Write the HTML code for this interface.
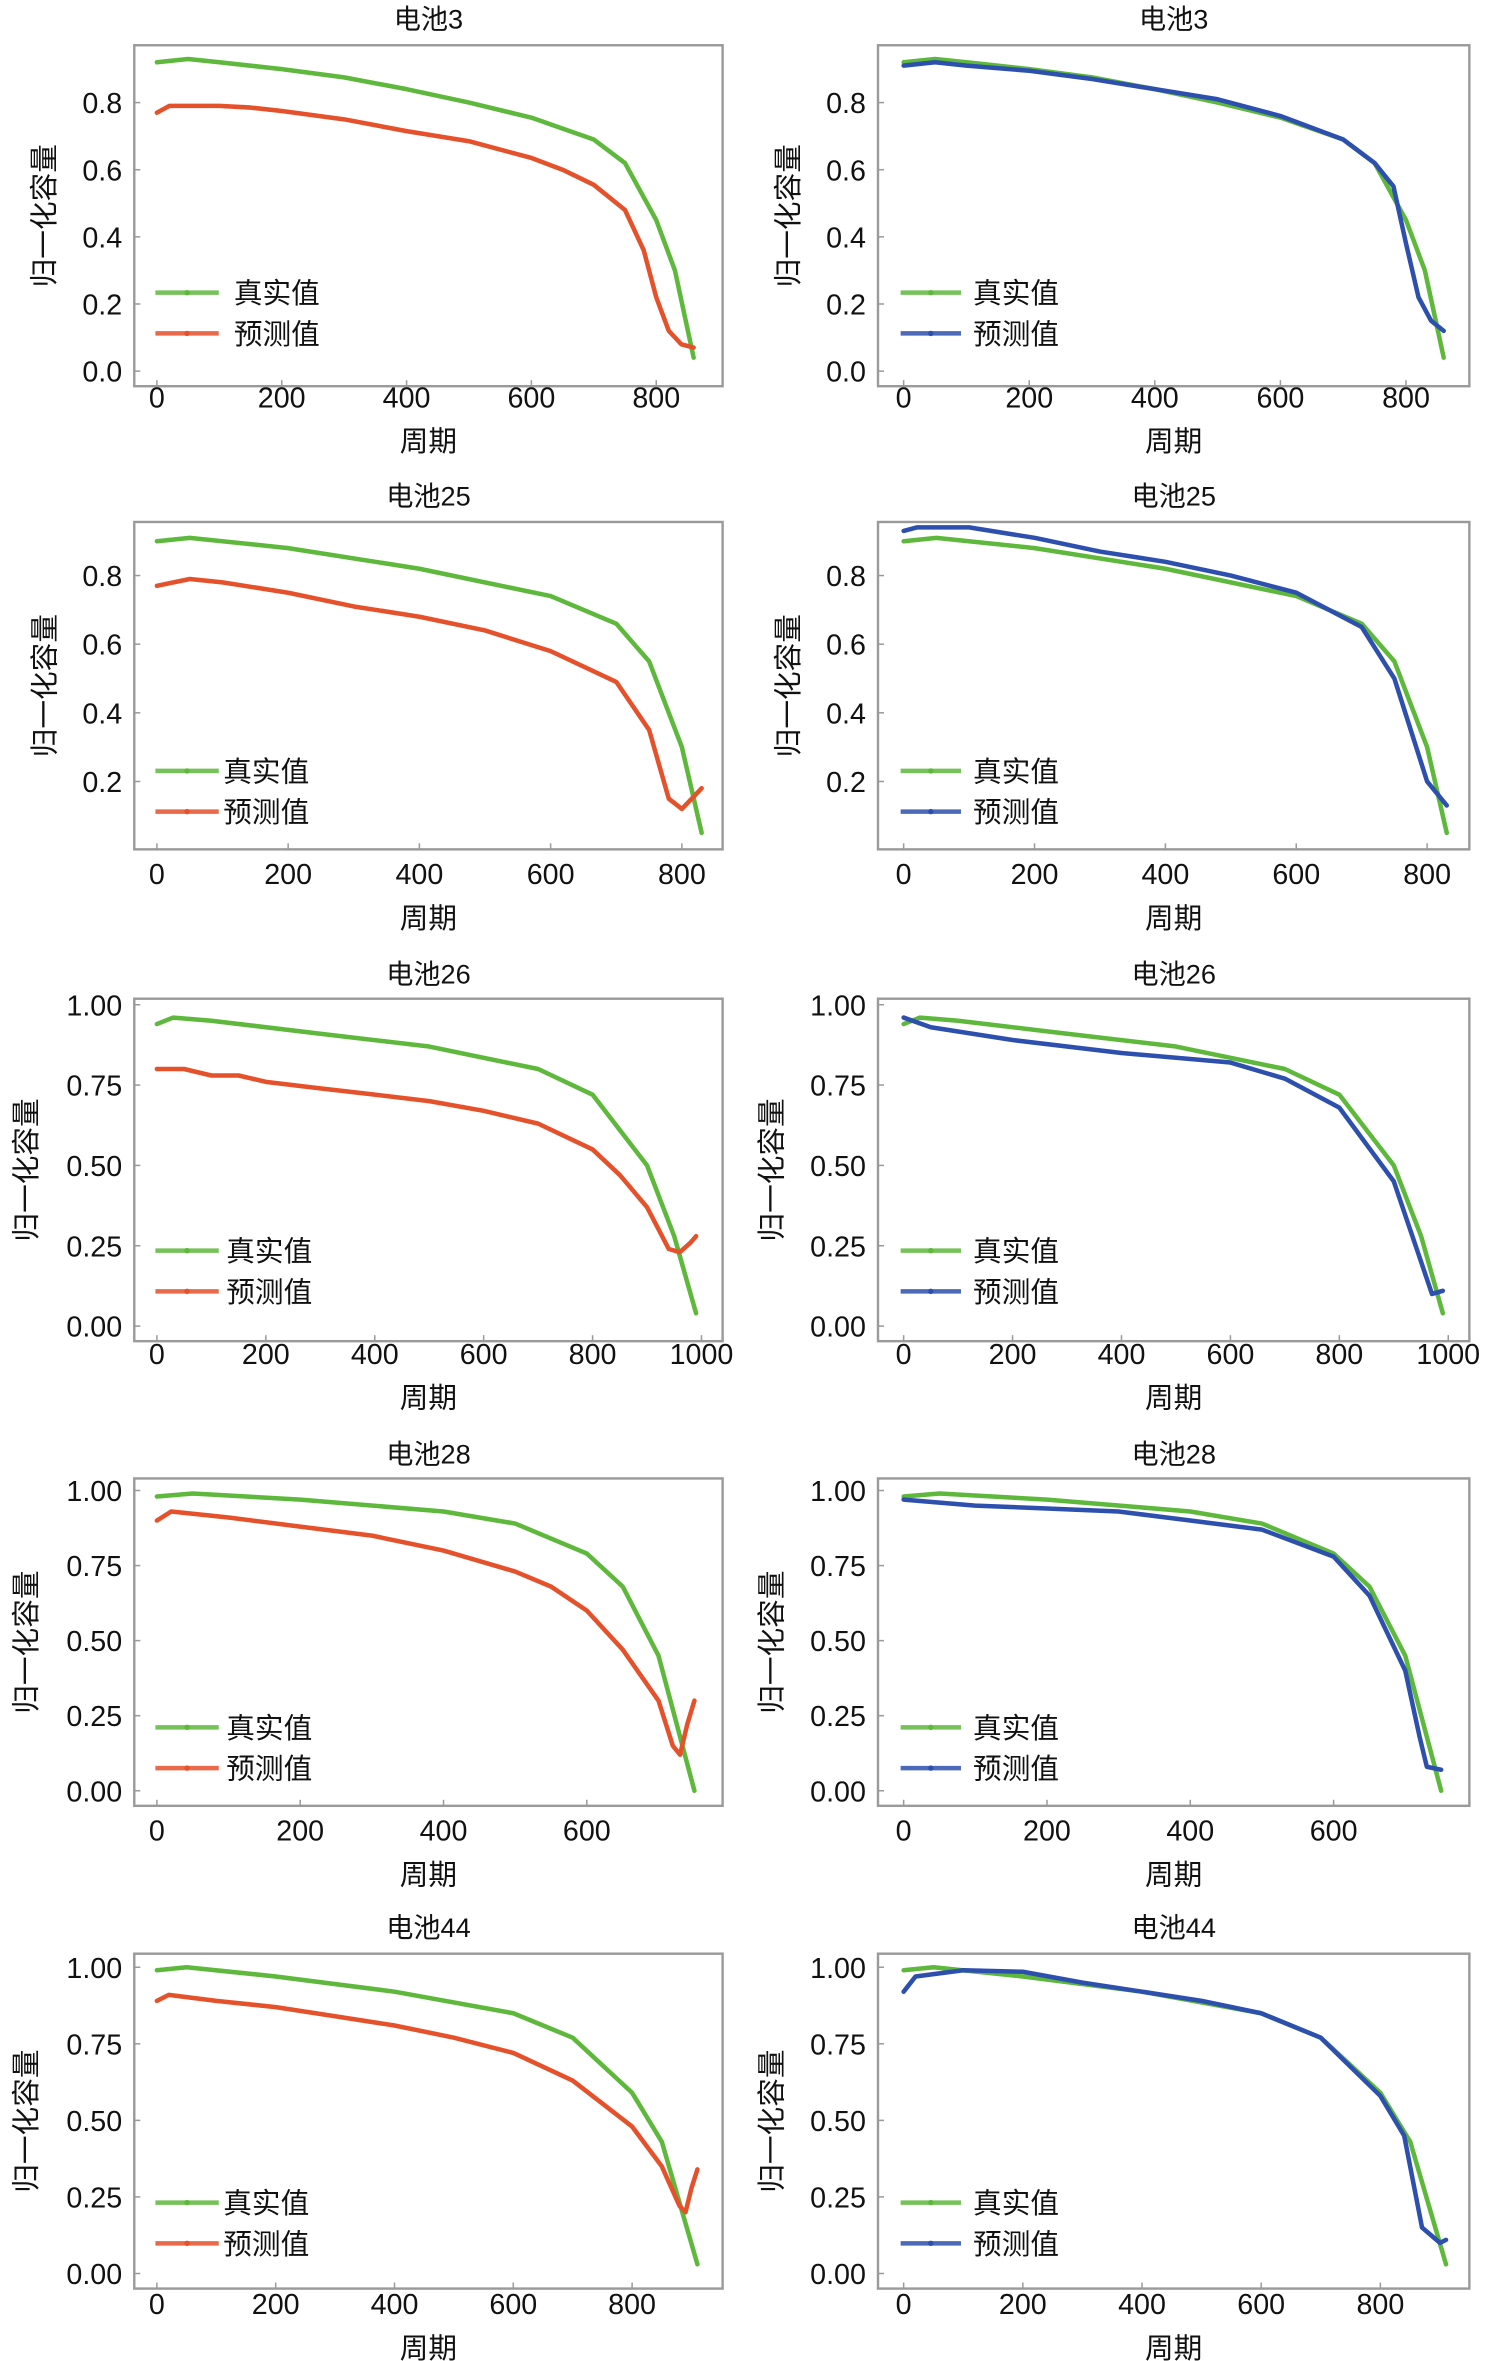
<!DOCTYPE html>
<html><head><meta charset="utf-8"><style>
html,body{margin:0;padding:0;background:#fff;}
svg{display:block;}
text{font-family:"Liberation Sans","Noto Sans CJK SC",sans-serif;fill:#111;}
</style></head><body>
<svg id="fig" xmlns="http://www.w3.org/2000/svg" width="1492" height="2361" viewBox="0 0 989 1565" preserveAspectRatio="none"></svg>
<script>
// ---- data (cycle, normalized capacity) ----
const b3Cycles = [0,50,100,200,300,400,500,600,700,750,800,830,860];
const b3True = [0.92,0.93,0.92,0.90,0.875,0.84,0.80,0.755,0.69,0.62,0.45,0.30,0.04];
const b3PredRedCycles = [0,20,100,150,200,300,400,500,600,650,700,750,780,800,820,840,860];
const b3PredRed = [0.77,0.79,0.79,0.785,0.775,0.75,0.715,0.685,0.635,0.60,0.555,0.48,0.36,0.22,0.12,0.08,0.07];
const b3PredBlueCycles = [0,50,100,200,300,400,500,600,700,750,780,800,820,840,860];
const b3PredBlue = [0.91,0.92,0.91,0.895,0.87,0.84,0.81,0.76,0.69,0.62,0.55,0.38,0.22,0.15,0.12];

const b25Cycles = [0,50,200,400,600,700,750,800,830];
const b25True = [0.90,0.91,0.88,0.82,0.74,0.66,0.55,0.30,0.05];
const b25PredRedCycles = [0,50,100,200,300,400,500,600,700,750,780,800,815,830];
const b25PredRed = [0.77,0.79,0.78,0.75,0.71,0.68,0.64,0.58,0.49,0.35,0.15,0.12,0.15,0.18];
const b25PredBlueCycles = [0,20,100,200,300,400,500,600,700,750,800,830];
const b25PredBlue = [0.93,0.94,0.94,0.91,0.87,0.84,0.80,0.75,0.65,0.50,0.20,0.13];

const b26Cycles = [0,30,100,300,500,700,800,900,950,990];
const b26True = [0.94,0.96,0.95,0.91,0.87,0.80,0.72,0.50,0.28,0.04];
const b26PredRedCycles = [0,50,100,150,200,300,400,500,600,700,800,850,900,940,960,980,990];
const b26PredRed = [0.80,0.80,0.78,0.78,0.76,0.74,0.72,0.70,0.67,0.63,0.55,0.47,0.37,0.24,0.23,0.26,0.28];
const b26PredBlueCycles = [0,50,200,400,600,700,800,900,950,970,990];
const b26PredBlue = [0.96,0.93,0.89,0.85,0.82,0.77,0.68,0.45,0.20,0.10,0.11];

const b28Cycles = [0,50,200,400,500,600,650,700,750];
const b28True = [0.98,0.99,0.97,0.93,0.89,0.79,0.68,0.45,0.0];
const b28PredRedCycles = [0,20,100,200,300,400,500,550,600,650,700,720,730,740,750];
const b28PredRed = [0.90,0.93,0.91,0.88,0.85,0.80,0.73,0.68,0.60,0.47,0.30,0.15,0.12,0.22,0.30];
const b28PredBlueCycles = [0,100,200,300,400,500,600,650,700,720,730,750];
const b28PredBlue = [0.97,0.95,0.94,0.93,0.90,0.87,0.78,0.65,0.40,0.18,0.08,0.07];

const b44Cycles = [0,50,200,400,600,700,800,850,910];
const b44True = [0.99,1.0,0.97,0.92,0.85,0.77,0.59,0.43,0.03];
const b44PredRedCycles = [0,20,100,200,300,400,500,600,700,800,850,880,890,900,910];
const b44PredRed = [0.89,0.91,0.89,0.87,0.84,0.81,0.77,0.72,0.63,0.48,0.35,0.22,0.20,0.28,0.34];
const b44PredBlueCycles = [0,20,100,200,300,400,500,600,700,800,840,870,900,910];
const b44PredBlue = [0.92,0.97,0.99,0.985,0.95,0.92,0.89,0.85,0.77,0.58,0.45,0.15,0.10,0.11];

const titles = ['电池3','电池25','电池26','电池28','电池44'];
const xTicks = [[0,200,400,600,800],[0,200,400,600,800],[0,200,400,600,800,1000],[0,200,400,600],[0,200,400,600,800]];
const yTicks = [[0,0.2,0.4,0.6,0.8],[0.2,0.4,0.6,0.8],[0,0.25,0.5,0.75,1],[0,0.25,0.5,0.75,1],[0,0.25,0.5,0.75,1]];
const yDecimals = [1,1,2,2,2];

const seriesTrue = [[b3Cycles,b3True],[b25Cycles,b25True],[b26Cycles,b26True],[b28Cycles,b28True],[b44Cycles,b44True]];
const seriesRed = [[b3PredRedCycles,b3PredRed],[b25PredRedCycles,b25PredRed],[b26PredRedCycles,b26PredRed],[b28PredRedCycles,b28PredRed],[b44PredRedCycles,b44PredRed]];
const seriesBlue = [[b3PredBlueCycles,b3PredBlue],[b25PredBlueCycles,b25PredBlue],[b26PredBlueCycles,b26PredBlue],[b28PredBlueCycles,b28PredBlue],[b44PredBlueCycles,b44PredBlue]];

// ---- layout (display units) ----
const rows = [
 {top:30,bottom:256,y0:246,yPer:222.5,xMaxV:800,xL:[104,435],xR:[599,932],titleY:19,tickY:270,labY:299,legY:194,legTx:155,ylabX:[30,523]},
 {top:346,bottom:563,y0:563.5,yPer:227.5,xMaxV:800,xL:[104,452],xR:[599,946],titleY:335,tickY:586,labY:615,legY:511,legTx:148,ylabX:[30,523]},
 {top:662,bottom:889,y0:879,yPer:213,xMaxV:1000,xL:[104,465],xR:[599,960],titleY:652,tickY:904,labY:933,legY:829,legTx:150,ylabX:[18,512]},
 {top:980,bottom:1197,y0:1187,yPer:199,xMaxV:600,xL:[104,389],xR:[599,884],titleY:970,tickY:1220,labY:1249,legY:1145,legTx:150,ylabX:[18,512]},
 {top:1295,bottom:1517,y0:1507,yPer:203,xMaxV:800,xL:[104,419],xR:[599,915],titleY:1284,tickY:1534,labY:1563,legY:1460,legTx:148,ylabX:[18,512]}
];
const boxX = [[89,479],[582,974]];
const NS='http://www.w3.org/2000/svg';
const svg=document.getElementById('fig');
function mk(tag,attrs,parent){const e=document.createElementNS(NS,tag);for(const k in attrs)e.setAttribute(k,attrs[k]);(parent||svg).appendChild(e);return e;}

rows.forEach((r,ri)=>{
 [0,1].forEach(ci=>{
  const g=mk('g',{});
  
  
  const xr=ci===0?r.xL:r.xR;
  const xS=v=>xr[0]+(xr[1]-xr[0])*v/r.xMaxV;
  const yS=v=>r.y0-v*r.yPer;
  const bx=boxX[ci];
  const cx=(bx[0]+bx[1])/2;
  const t=mk('text',{x:cx,y:r.titleY,'text-anchor':'middle','font-size':18},g);t.textContent=titles[ri];
  
  
  const box=mk('rect',{x:bx[0],y:r.top,width:bx[1]-bx[0],height:r.bottom-r.top,fill:'none',stroke:'#9a9a9a','stroke-width':1.6},g);
  
  
  xTicks[ri].forEach(v=>{
   mk('line',{x1:xS(v),x2:xS(v),y1:r.bottom,y2:r.bottom-4,stroke:'#9a9a9a','stroke-width':1},g);
   const tx=mk('text',{x:xS(v),y:r.tickY,'text-anchor':'middle','font-size':19},g);tx.textContent=v;
   
   
  });
  yTicks[ri].forEach(v=>{
   mk('line',{x1:bx[0],x2:bx[0]+4,y1:yS(v),y2:yS(v),stroke:'#9a9a9a','stroke-width':1},g);
   const ty=mk('text',{x:bx[0]-8,y:yS(v)+7,'text-anchor':'end','font-size':19},g);ty.textContent=v.toFixed(yDecimals[ri]);
   
   
  });
  const xl=mk('text',{x:cx,y:r.labY,'text-anchor':'middle','font-size':19},g);xl.textContent='周期';
  
  
  const yc=(r.top+r.bottom)/2;
  const yl=mk('text',{x:r.ylabX[ci],y:yc,'text-anchor':'middle','font-size':19,transform:'rotate(-90 '+r.ylabX[ci]+' '+yc+')','dominant-baseline':'central'},g);yl.textContent='归一化容量';
  
  
  const predCol=ci===0?'#e5512b':'#2d4fae';
  const pred=ci===0?seriesRed[ri]:seriesBlue[ri];
  const tr=seriesTrue[ri];
  const path=(s)=>s[0].map((c,i)=>(i?'L':'M')+xS(c).toFixed(1)+','+yS(s[1][i]).toFixed(1)).join(' ');
  const drawOrder=ci===0?[[tr,'#5db83c','true-line'],[pred,predCol,'predicted-line']]:[[tr,'#5db83c','true-line'],[pred,predCol,'predicted-line']];
  drawOrder.forEach(d=>{
   const p=mk('path',{d:path(d[0]),fill:'none',stroke:d[1],'stroke-width':3,'stroke-linejoin':'round','stroke-linecap':'round'},g);
   
   
  });
  const lx0=ci===0?103:597, lx1=ci===0?145:637, ltx=ci===0?r.legTx:645;
  [[r.legY,'#5db83c','真实值','legend-true'],[r.legY+27,predCol,'预测值','legend-predicted']].forEach(L=>{
   const lg=mk('g',{},g);
   
   
   mk('line',{x1:lx0,x2:lx1,y1:L[0],y2:L[0],stroke:L[1],'stroke-width':3,opacity:0.85},lg);
   mk('circle',{cx:(lx0+lx1)/2,cy:L[0],r:1.8,fill:L[1]},lg);
   const lt=mk('text',{x:ltx,y:L[0]+7,'font-size':19},lg);lt.textContent=L[2];
  });
 });
});
</script>
</body></html>
